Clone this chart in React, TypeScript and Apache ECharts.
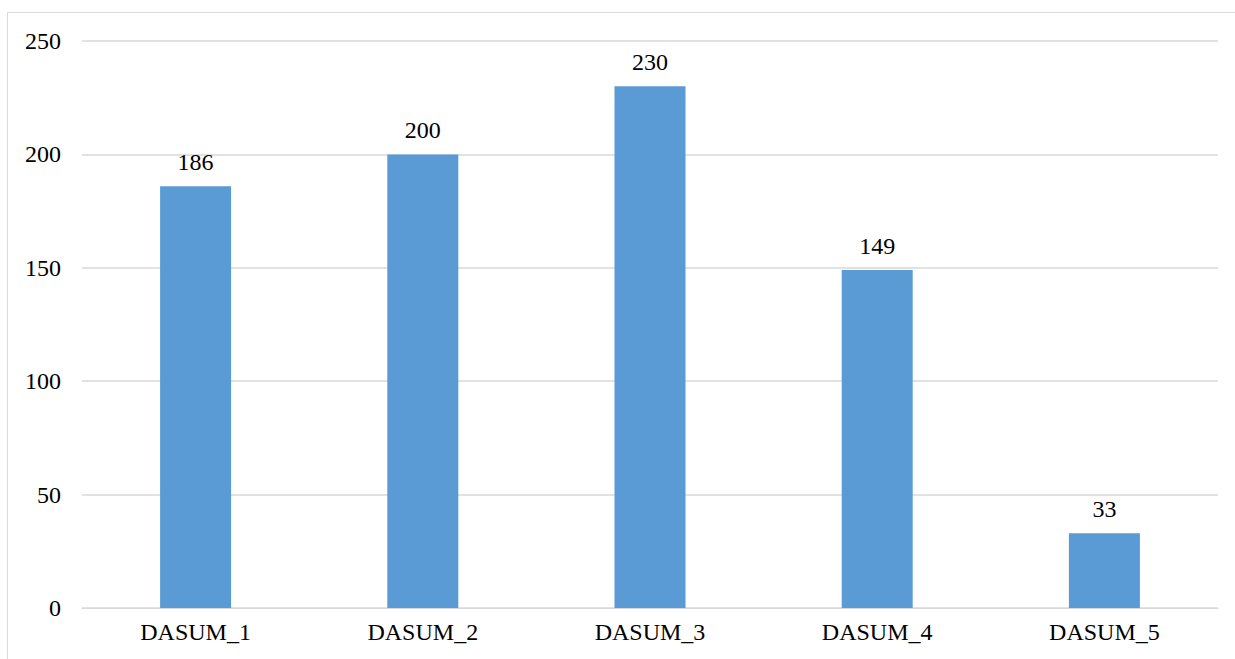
import React, { useEffect, useRef } from "react";
import * as echarts from "echarts";

const categories = ["DASUM_1", "DASUM_2", "DASUM_3", "DASUM_4", "DASUM_5"];
const values = [186, 200, 230, 149, 33];
const yTicks = [0, 50, 100, 150, 200, 250];

export default function App() {
  const ref = useRef<HTMLDivElement>(null);
  useEffect(() => {
    if (!ref.current) return;
    const chart = echarts.init(ref.current, null, { renderer: "svg" });
    const font = "'Times New Roman', 'Liberation Serif', serif";
    chart.setOption({
      animation: false,
      backgroundColor: "#ffffff",
      textStyle: { fontFamily: font },
      graphic: [
        {
          type: "rect",
          shape: { x: 7.5, y: 12.5, width: 1260, height: 680 },
          style: { fill: "none", stroke: "#D9D9D9", lineWidth: 1 },
          silent: true,
        },
      ],
      grid: { left: 82, right: 17, top: 41, bottom: 51, containLabel: false },
      xAxis: {
        type: "category",
        data: categories,
        axisLine: { show: true, lineStyle: { color: "#D9D9D9", width: 1 } },
        axisTick: { show: false },
        axisLabel: { color: "#000", fontSize: 24, fontFamily: font, margin: 12 },
      },
      yAxis: {
        type: "value",
        min: yTicks[0],
        max: yTicks[yTicks.length - 1],
        interval: 50,
        axisLine: { show: false },
        axisTick: { show: false },
        splitLine: { lineStyle: { color: "#D9D9D9", width: 1.5 } },
        axisLabel: { color: "#000", fontSize: 24, fontFamily: font, margin: 21 },
      },
      series: [
        {
          type: "bar",
          data: values,
          barWidth: 71,
          itemStyle: { color: "#5B9BD5" },
          label: {
            show: true,
            position: "top",
            distance: 12,
            color: "#000",
            fontSize: 24,
            fontFamily: font,
          },
        },
      ],
    });
    return () => chart.dispose();
  }, []);
  return (
    <div
      ref={ref}
      style={{ position: "fixed", left: 0, top: 0, width: 1235, height: 659 }}
    />
  );
}
